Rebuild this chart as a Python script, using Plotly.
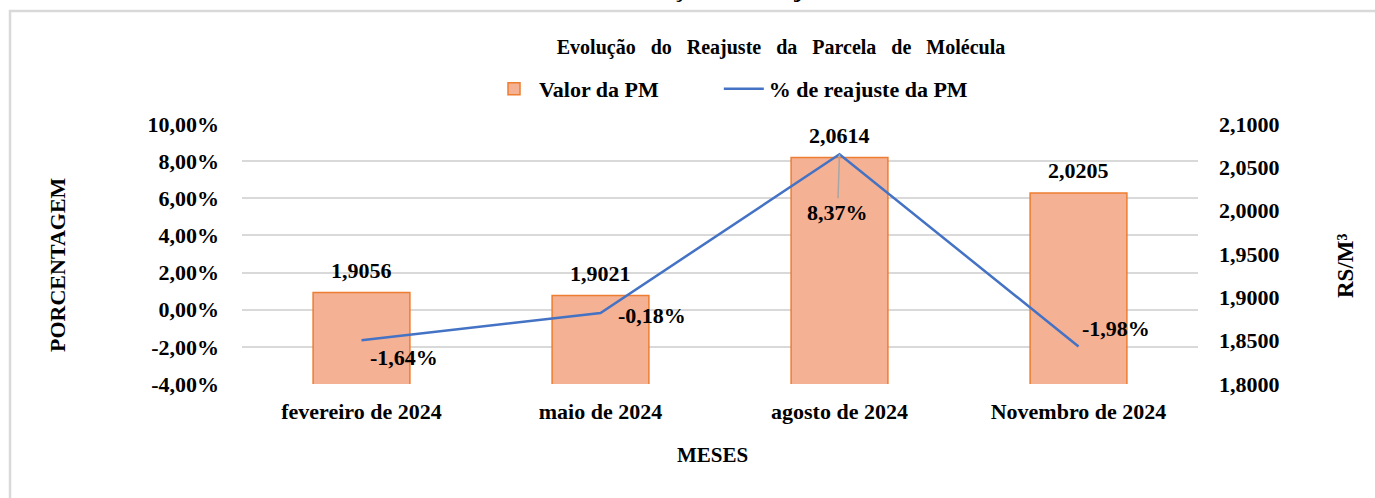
import plotly.graph_objects as go

meses = ["fevereiro de 2024", "maio de 2024", "agosto de 2024", "Novembro de 2024"]
valor_pm = [1.9056, 1.9021, 2.0614, 2.0205]
reajuste_pm = [-0.0164, -0.0018, 0.0837, -0.0198]
ticks_pct = [-0.04, -0.02, 0.0, 0.02, 0.04, 0.06, 0.08, 0.10]
ticks_rs = [1.80, 1.85, 1.90, 1.95, 2.00, 2.05, 2.10]

FONT = "Liberation Serif"
BAR_FILL = "#f5b193"
BAR_EDGE = "#ed7d31"
LINE_BLUE = "#4472c4"
GRID = "#d9d9d9"


def bold(size):
    return dict(family=FONT, size=size, color="black", weight="bold")


def br(v, casas):
    # Brazilian decimal comma, plain hyphen for negatives
    return f"{v:.{casas}f}".replace(".", ",")


# page geometry (pixels) -> paper coords
L, R, T, B = 242, 1198, 124, 384
def px(x): return (x - L) / (R - L)
def py(y): return (B - y) / (B - T)


fig = go.Figure()

# bars on the R$/M3 axis (right side), line on the % axis (left side, drawn on top)
fig.add_trace(go.Bar(
    x=meses, y=valor_pm, name="Valor da PM" + "&nbsp;" * 10, yaxis="y",
    marker=dict(color=BAR_FILL, line=dict(color=BAR_EDGE, width=1.5)),
    width=0.405,
))

fig.add_trace(go.Scatter(
    x=meses, y=reajuste_pm, name="% de reajuste da PM", mode="lines", yaxis="y2",
    line=dict(color=LINE_BLUE, width=2.5),
))

# bar value labels
for m, v in zip(meses, valor_pm):
    fig.add_annotation(x=m, y=v, xref="x", yref="y", showarrow=False,
                       xanchor="center", yanchor="middle",
                       text=br(v, 4), yshift=22, font=bold(22))

# line value labels, placed like the Excel labels
offsets = [(42, 17, False), (51, 2, False), (0, 0, True), (37, -18, False)]
for m, v, (dx, dy, arrow) in zip(meses, reajuste_pm, offsets):
    txt = br(v * 100, 2) + "%"
    if arrow:
        fig.add_annotation(x=m, y=v, xref="x", yref="y2", text=txt, showarrow=True,
                           arrowhead=0, arrowcolor="#a6a6a6", arrowwidth=1.5,
                           ax=-2, ay=58, standoff=0, font=bold(22))
    else:
        fig.add_annotation(x=m, y=v, xref="x", yref="y2", text=txt, showarrow=False,
                           xanchor="center", yanchor="middle",
                           xshift=dx, yshift=-dy, font=bold(22))

# axis titles
fig.add_annotation(x=px(57), y=py(265), xref="paper", yref="paper", showarrow=False,
                   xanchor="center", yanchor="middle",
                   text="PORCENTAGEM", textangle=-90, font=bold(22))
fig.add_annotation(x=px(1345), y=py(266), xref="paper", yref="paper", showarrow=False,
                   xanchor="center", yanchor="middle",
                   text="RS/M³", textangle=-90, font=bold(23))
fig.add_annotation(x=px(712), y=py(455), xref="paper", yref="paper", showarrow=False,
                   xanchor="center", yanchor="middle",
                   text="MESES", font=bold(21))

# clipped heading at the very top of the page
fig.add_annotation(x=px(606), y=py(5), xref="paper", yref="paper",
                   xanchor="left", yanchor="bottom", showarrow=False,
                   text="Evolução do Reajuste", font=bold(26))

# outer frame
fig.add_shape(type="rect", xref="paper", yref="paper",
              x0=px(10), x1=px(1390), y0=py(520), y1=py(11),
              line=dict(color=GRID, width=2.5), layer="below")

sp = "&nbsp;&nbsp;&nbsp;"
titulo = sp.join(["Evolução", "do", "Reajuste", "da", "Parcela", "de", "Molécula"])

fig.update_layout(
    width=1375, height=498,
    paper_bgcolor="white", plot_bgcolor="white",
    margin=dict(l=L, r=1375 - R, t=T, b=498 - B, autoexpand=False),
    font=dict(family=FONT, color="black"),
    title=dict(text=titulo, x=px(781), xref="paper", xanchor="center",
               y=1 - 47 / 498, yanchor="middle", font=bold(20)),
    showlegend=True,
    legend=dict(orientation="h", x=px(489), xanchor="left",
                y=py(89), yanchor="middle", font=bold(22),
                itemwidth=40, traceorder="normal"),
    xaxis=dict(type="category", showgrid=False, showline=False, ticks="",
               ticklabelstandoff=12, tickfont=bold(22)),
    xaxis2=dict(overlaying="x", range=[-0.5, 3.5], anchor="free", position=4 / 14,
                tickvals=[-0.5, 0.5, 1.5, 2.5, 3.5], showticklabels=False,
                ticks="outside", ticklen=5, tickcolor=GRID, tickwidth=1.5,
                showline=True, linecolor=GRID, linewidth=1.5, showgrid=False,
                zeroline=False),
    yaxis=dict(range=[1.80, 2.10], tickvals=ticks_rs,
               ticktext=[br(v, 4) for v in ticks_rs], side="right",
               showgrid=False, zeroline=False, ticks="", ticklabelstandoff=20,
               tickfont=bold(22)),
    yaxis2=dict(range=[-0.04, 0.10], tickvals=ticks_pct,
                ticktext=[br(v * 100, 2) + "%" for v in ticks_pct], overlaying="y",
                side="left", showgrid=True, gridcolor=GRID, gridwidth=1.5,
                zeroline=False, ticks="", ticklabelstandoff=22,
                tickfont=bold(22)),
)

fig.write_html("out.html", config={"displayModeBar": False},
               post_script="document.body.style.margin='0px';")
